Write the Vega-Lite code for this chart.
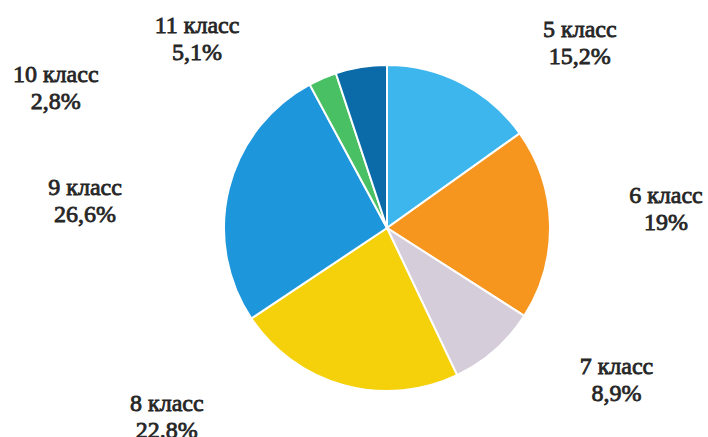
{
  "$schema": "https://vega.github.io/schema/vega-lite/v6.json",
  "width": 642,
  "height": 418,
  "autosize": {"type": "none"},
  "padding": {"left": 66, "top": 19, "right": 0, "bottom": 0},
  "background": "white",
  "config": {
    "view": {"stroke": null},
    "text": {"font": "Liberation Serif", "fontSize": 24, "lineHeight": 27, "lineBreak": "\n", "color": "#262626", "stroke": "#262626", "strokeWidth": 0.8, "align": "center", "baseline": "middle", "radius": 170}
  },
  "data": {
    "values": [
      {"n": 5, "cls": "5 класс", "value": 15.2, "label": "5 класс\n15,2%"},
      {"n": 6, "cls": "6 класс", "value": 19, "label": "6 класс\n19%"},
      {"n": 7, "cls": "7 класс", "value": 8.9, "label": "7 класс\n8,9%"},
      {"n": 8, "cls": "8 класс", "value": 22.8, "label": "8 класс\n22.8%"},
      {"n": 9, "cls": "9 класс", "value": 26.6, "label": "9 класс\n26,6%"},
      {"n": 10, "cls": "10 класс", "value": 2.8, "label": "10 класс\n2,8%"},
      {"n": 11, "cls": "11 класс", "value": 5.1, "label": "11 класс\n5,1%"}
    ]
  },
  "transform": [
    {"stack": "value", "groupby": [], "sort": [{"field": "n", "order": "ascending"}], "as": ["v0", "v1"]},
    {"calculate": "(datum.v0 + datum.v1) / 2", "as": "mid"}
  ],
  "layer": [
    {
      "mark": {"type": "arc", "outerRadius": 163, "stroke": "white", "strokeWidth": 2},
      "encoding": {
        "theta": {"field": "v0", "type": "quantitative", "scale": {"domain": [0, 100.4]}, "stack": null},
        "theta2": {"field": "v1"},
        "color": {
          "field": "cls", "type": "nominal", "legend": null,
          "scale": {
            "domain": ["5 класс", "6 класс", "7 класс", "8 класс", "9 класс", "10 класс", "11 класс"],
            "range": ["#3cb6ec", "#f7961f", "#d5cdd9", "#f5d10c", "#1e96db", "#49c064", "#0b6aa8"]
          }
        }
      }
    },
    {
      "transform": [{"filter": "datum.n == 5"}],
      "mark": {"type": "text", "radius": 170, "dx": 115, "dy": -47},
      "encoding": {"theta": {"field": "mid", "type": "quantitative", "scale": {"domain": [0, 100.4]}, "stack": null}, "text": {"field": "label"}}
    },
    {
      "transform": [{"filter": "datum.n == 6"}],
      "mark": {"type": "text", "radius": 170, "dx": 109, "dy": -28},
      "encoding": {"theta": {"field": "mid", "type": "quantitative", "scale": {"domain": [0, 100.4]}, "stack": null}, "text": {"field": "label"}}
    },
    {
      "transform": [{"filter": "datum.n == 7"}],
      "mark": {"type": "text", "radius": 170, "dx": 117, "dy": 12},
      "encoding": {"theta": {"field": "mid", "type": "quantitative", "scale": {"domain": [0, 100.4]}, "stack": null}, "text": {"field": "label"}}
    },
    {
      "transform": [{"filter": "datum.n == 8"}],
      "mark": {"type": "text", "radius": 170, "dx": -175, "dy": 12},
      "encoding": {"theta": {"field": "mid", "type": "quantitative", "scale": {"domain": [0, 100.4]}, "stack": null}, "text": {"field": "label"}}
    },
    {
      "transform": [{"filter": "datum.n == 9"}],
      "mark": {"type": "text", "radius": 170, "dx": -137, "dy": 1},
      "encoding": {"theta": {"field": "mid", "type": "quantitative", "scale": {"domain": [0, 100.4]}, "stack": null}, "text": {"field": "label"}}
    },
    {
      "transform": [{"filter": "datum.n == 10"}],
      "mark": {"type": "text", "radius": 170, "dx": -264, "dy": 3},
      "encoding": {"theta": {"field": "mid", "type": "quantitative", "scale": {"domain": [0, 100.4]}, "stack": null}, "text": {"field": "label"}}
    },
    {
      "transform": [{"filter": "datum.n == 11"}],
      "mark": {"type": "text", "radius": 170, "dx": -163, "dy": -34},
      "encoding": {"theta": {"field": "mid", "type": "quantitative", "scale": {"domain": [0, 100.4]}, "stack": null}, "text": {"field": "label"}}
    }
  ]
}
